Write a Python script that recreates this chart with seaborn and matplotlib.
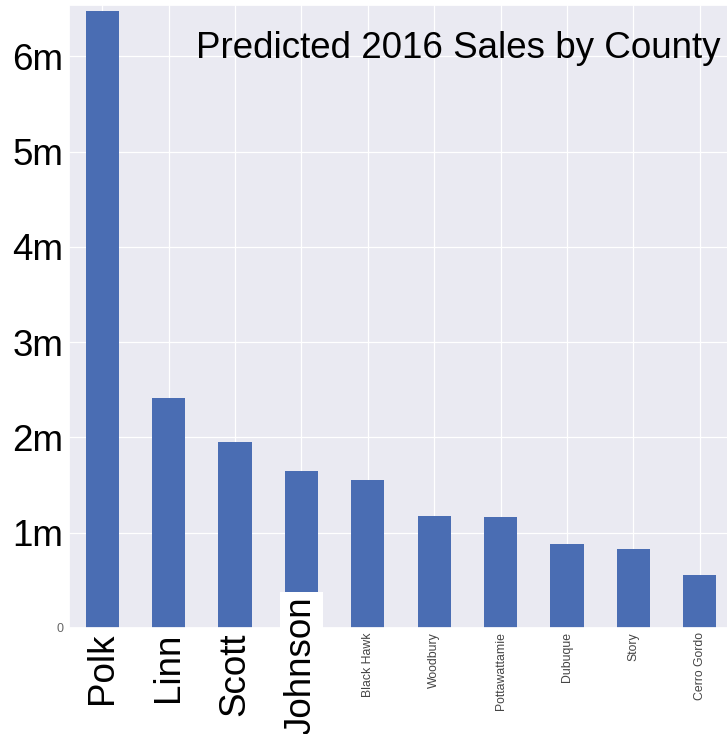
import matplotlib
matplotlib.use("Agg")
import matplotlib.pyplot as plt
import seaborn as sns
import pandas as pd

counties = ["Polk", "Linn", "Scott", "Johnson", "Black Hawk", "Woodbury",
            "Pottawattamie", "Dubuque", "Story", "Cerro Gordo"]
sales = [6.48e6, 2.41e6, 1.95e6, 1.65e6, 1.55e6, 1.18e6, 1.17e6, 0.88e6, 0.83e6, 0.56e6]
ytick_vals = [0, 1e6, 2e6, 3e6, 4e6, 5e6, 6e6]
ytick_labels = ["0", "1m", "2m", "3m", "4m", "5m", "6m"]
big_labels = ["Polk", "Linn", "Scott"]
boxed_label = "Johnson"
title = "Predicted 2016 Sales by County"

sns.set_theme(style="darkgrid")
plt.rcParams["font.family"] = ["Liberation Sans", "DejaVu Sans"]

W, H = 727, 734
fig = plt.figure(figsize=(W / 100, H / 100), dpi=100)
ax = fig.add_axes([69 / W, 106 / H, 664 / W, 623 / H])

df = pd.DataFrame({"county": counties, "sales": sales})
sns.barplot(data=df, x="county", y="sales", color="#4A6DB3", saturation=1,
            width=0.5, linewidth=0, ax=ax)
ax.set_xlim(-0.5, len(counties) - 0.5)
ax.set_ylim(0, 6.54e6)
ax.set_xlabel("")
ax.set_ylabel("")
ax.grid(True, axis="both", color="white", linewidth=0.9)
ax.set_axisbelow(True)

ax.set_yticks(ytick_vals)
ax.set_yticklabels(ytick_labels)
for lab in ax.get_yticklabels():
    if lab.get_text() == "0":
        lab.set_fontsize(9)
        lab.set_color("#666666")
    else:
        lab.set_fontsize(26.5)
        lab.set_color("black")
ax.tick_params(axis="both", length=0)
ax.tick_params(axis="y", pad=4)

ax.set_xticks(range(len(counties)))
ax.set_xticklabels([c if c != boxed_label else "" for c in counties], rotation=90)
for lab in ax.get_xticklabels():
    if lab.get_text() in big_labels:
        lab.set_fontsize(26.5)
        lab.set_color("black")
    else:
        lab.set_fontsize(8.8)
        lab.set_color("#444444")
ax.tick_params(axis="x", pad=3)

jx = counties.index(boxed_label)
ax.text(jx, (628 - 596) / 623, boxed_label, transform=ax.get_xaxis_transform(),
        rotation=90, ha="center", va="top", fontsize=26.5, color="black",
        bbox=dict(facecolor="white", edgecolor="none", pad=3), clip_on=False)

fig.text(720 / W, 1 - 58 / H, title, ha="right", va="baseline",
         fontsize=26.5, color="black")

fig.savefig("out.png", dpi=100)
